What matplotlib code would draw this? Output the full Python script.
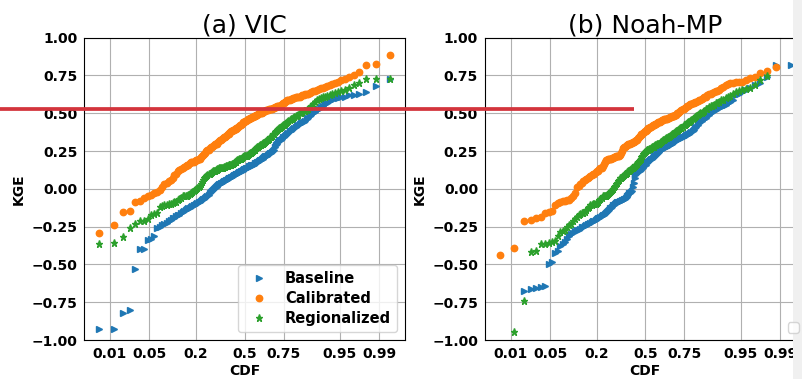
import numpy as np
import matplotlib
matplotlib.use("Agg")
import matplotlib.pyplot as plt
from matplotlib.patches import Rectangle
from matplotlib.lines import Line2D
from matplotlib.transforms import Bbox, TransformedBbox
from statistics import NormalDist

# ---------------- data (sorted KGE values, one per basin rank) ----------------
series_names = ["Baseline", "Calibrated", "Regionalized"]
panel_titles = ["(a) VIC", "(b) Noah-MP"]
cdf_ticks = [0.01, 0.05, 0.2, 0.5, 0.75, 0.95, 0.99]
cdf_tick_labels = ["0.01", "0.05", "0.2", "0.5", "0.75", "0.95", "0.99"]
kge_ticks = [-1.0, -0.75, -0.5, -0.25, 0.0, 0.25, 0.5, 0.75, 1.0]

vic_baseline = [
    -0.93, -0.93, -0.82, -0.80, -0.53, -0.40, -0.40, -0.34, -0.33, -0.31,
    -0.26, -0.25, -0.24, -0.235, -0.225, -0.215, -0.205, -0.195, -0.19, -0.18,
    -0.175, -0.17, -0.16, -0.15, -0.145, -0.14, -0.135, -0.13, -0.125, -0.12,
    -0.115, -0.11, -0.105, -0.10, -0.095, -0.09, -0.085, -0.08, -0.075, -0.07,
    -0.065, -0.06, -0.055, -0.05, -0.04, -0.03, -0.02, -0.015, -0.01, 0.00,
    0.005, 0.01, 0.015, 0.02, 0.025, 0.03, 0.035, 0.04, 0.04, 0.045,
    0.05, 0.055, 0.06, 0.06, 0.065, 0.07, 0.07, 0.075, 0.08, 0.08,
    0.085, 0.09, 0.09, 0.095, 0.10, 0.10, 0.105, 0.11, 0.11, 0.115,
    0.12, 0.12, 0.125, 0.13, 0.13, 0.135, 0.14, 0.14, 0.145, 0.15,
    0.15, 0.155, 0.155, 0.16, 0.16, 0.165, 0.17, 0.17, 0.175, 0.18,
    0.185, 0.19, 0.19, 0.195, 0.20, 0.205, 0.21, 0.215, 0.22, 0.22,
    0.225, 0.23, 0.235, 0.24, 0.245, 0.25, 0.26, 0.275, 0.29, 0.30,
    0.31, 0.315, 0.32, 0.325, 0.33, 0.34, 0.345, 0.35, 0.355, 0.36,
    0.37, 0.38, 0.385, 0.39, 0.395, 0.40, 0.41, 0.415, 0.42, 0.43,
    0.435, 0.44, 0.445, 0.45, 0.46, 0.47, 0.48, 0.49, 0.50, 0.51,
    0.52, 0.53, 0.54, 0.55, 0.56, 0.57, 0.58, 0.59, 0.60, 0.60,
    0.61, 0.61, 0.62, 0.62, 0.63, 0.64, 0.68, 0.73,
]
vic_calibrated = [
    -0.29, -0.24, -0.155, -0.145, -0.09, -0.08, -0.06, -0.05, -0.04, -0.03,
    -0.02, -0.01, 0.01, 0.03, 0.04, 0.05, 0.06, 0.075, 0.09, 0.10,
    0.115, 0.125, 0.13, 0.14, 0.145, 0.15, 0.155, 0.16, 0.17, 0.175,
    0.18, 0.18, 0.185, 0.19, 0.19, 0.195, 0.20, 0.21, 0.215, 0.225,
    0.23, 0.24, 0.25, 0.255, 0.26, 0.27, 0.275, 0.28, 0.285, 0.29,
    0.295, 0.30, 0.30, 0.305, 0.31, 0.315, 0.32, 0.325, 0.33, 0.335,
    0.34, 0.345, 0.35, 0.355, 0.36, 0.365, 0.37, 0.375, 0.38, 0.385,
    0.39, 0.39, 0.395, 0.395, 0.40, 0.405, 0.41, 0.415, 0.42, 0.425,
    0.43, 0.435, 0.44, 0.445, 0.45, 0.45, 0.455, 0.46, 0.46, 0.465,
    0.47, 0.47, 0.475, 0.475, 0.48, 0.48, 0.485, 0.49, 0.49, 0.495,
    0.50, 0.50, 0.505, 0.505, 0.51, 0.51, 0.515, 0.515, 0.52, 0.52,
    0.52, 0.525, 0.525, 0.53, 0.53, 0.535, 0.535, 0.54, 0.54, 0.545,
    0.545, 0.55, 0.55, 0.555, 0.56, 0.565, 0.57, 0.575, 0.58, 0.585,
    0.59, 0.59, 0.595, 0.595, 0.60, 0.60, 0.605, 0.605, 0.61, 0.61,
    0.615, 0.62, 0.62, 0.625, 0.63, 0.63, 0.635, 0.64, 0.645, 0.65,
    0.655, 0.66, 0.665, 0.67, 0.675, 0.68, 0.69, 0.695, 0.70, 0.71,
    0.72, 0.73, 0.74, 0.755, 0.775, 0.82, 0.825, 0.885,
]
vic_regionalized = [
    -0.365, -0.36, -0.32, -0.26, -0.23, -0.215, -0.21, -0.20, -0.17, -0.165,
    -0.16, -0.12, -0.115, -0.11, -0.105, -0.10, -0.10, -0.095, -0.09, -0.085,
    -0.075, -0.07, -0.06, -0.05, -0.05, -0.045, -0.045, -0.04, -0.035, -0.03,
    -0.02, -0.015, -0.01, 0.00, 0.005, 0.01, 0.02, 0.03, 0.045, 0.06,
    0.07, 0.08, 0.085, 0.09, 0.095, 0.10, 0.105, 0.11, 0.115, 0.12,
    0.12, 0.125, 0.125, 0.13, 0.13, 0.135, 0.135, 0.14, 0.14, 0.14,
    0.145, 0.145, 0.15, 0.15, 0.15, 0.155, 0.155, 0.16, 0.16, 0.165,
    0.165, 0.17, 0.175, 0.18, 0.185, 0.19, 0.19, 0.195, 0.20, 0.20,
    0.205, 0.21, 0.21, 0.215, 0.215, 0.22, 0.22, 0.225, 0.23, 0.23,
    0.235, 0.24, 0.245, 0.25, 0.255, 0.26, 0.265, 0.27, 0.275, 0.28,
    0.285, 0.29, 0.29, 0.295, 0.30, 0.305, 0.305, 0.31, 0.315, 0.32,
    0.325, 0.33, 0.34, 0.345, 0.35, 0.36, 0.365, 0.375, 0.38, 0.39,
    0.395, 0.40, 0.405, 0.41, 0.415, 0.42, 0.425, 0.43, 0.435, 0.44,
    0.45, 0.455, 0.46, 0.465, 0.47, 0.475, 0.48, 0.485, 0.49, 0.50,
    0.505, 0.51, 0.515, 0.515, 0.52, 0.53, 0.54, 0.55, 0.56, 0.575,
    0.59, 0.595, 0.60, 0.605, 0.61, 0.615, 0.62, 0.63, 0.635, 0.64,
    0.645, 0.655, 0.665, 0.69, 0.70, 0.725, 0.725, 0.73,
]
noah_baseline = [
    -1.20, -1.10, -0.675, -0.66, -0.655, -0.65, -0.64, -0.50, -0.485, -0.425,
    -0.41, -0.38, -0.365, -0.35, -0.33, -0.315, -0.30, -0.29, -0.28, -0.275,
    -0.27, -0.265, -0.255, -0.25, -0.245, -0.24, -0.235, -0.23, -0.225, -0.22,
    -0.215, -0.21, -0.205, -0.20, -0.195, -0.19, -0.185, -0.18, -0.175, -0.17,
    -0.165, -0.16, -0.155, -0.145, -0.14, -0.13, -0.125, -0.12, -0.11, -0.105,
    -0.10, -0.095, -0.09, -0.085, -0.085, -0.08, -0.08, -0.075, -0.075, -0.07,
    -0.065, -0.06, -0.055, -0.05, -0.04, -0.03, -0.025, -0.02, -0.015, 0.015,
    0.04, 0.07, 0.09, 0.10, 0.105, 0.11, 0.115, 0.12, 0.125, 0.13,
    0.135, 0.14, 0.15, 0.155, 0.16, 0.17, 0.175, 0.18, 0.185, 0.19,
    0.195, 0.20, 0.205, 0.21, 0.215, 0.22, 0.225, 0.23, 0.24, 0.245,
    0.255, 0.26, 0.26, 0.265, 0.27, 0.27, 0.275, 0.28, 0.28, 0.285,
    0.29, 0.29, 0.295, 0.30, 0.305, 0.31, 0.31, 0.315, 0.32, 0.325,
    0.325, 0.33, 0.335, 0.34, 0.34, 0.345, 0.35, 0.355, 0.355, 0.36,
    0.365, 0.37, 0.375, 0.38, 0.39, 0.40, 0.41, 0.42, 0.435, 0.445,
    0.45, 0.46, 0.465, 0.47, 0.48, 0.49, 0.50, 0.51, 0.515, 0.52,
    0.53, 0.535, 0.54, 0.55, 0.555, 0.565, 0.575, 0.585, 0.62, 0.63,
    0.64, 0.655, 0.665, 0.69, 0.70, 0.74, 0.82, 0.82,
]
noah_calibrated = [
    -0.435, -0.39, -0.21, -0.205, -0.195, -0.185, -0.16, -0.15, -0.145, -0.11,
    -0.095, -0.085, -0.08, -0.08, -0.075, -0.075, -0.06, -0.05, -0.03, 0.01,
    0.02, 0.03, 0.04, 0.05, 0.06, 0.065, 0.075, 0.08, 0.085, 0.09,
    0.095, 0.10, 0.11, 0.115, 0.12, 0.13, 0.135, 0.14, 0.15, 0.165,
    0.18, 0.19, 0.19, 0.195, 0.195, 0.20, 0.20, 0.205, 0.205, 0.21,
    0.21, 0.215, 0.215, 0.22, 0.22, 0.225, 0.235, 0.25, 0.27, 0.275,
    0.28, 0.285, 0.29, 0.29, 0.295, 0.30, 0.30, 0.305, 0.305, 0.31,
    0.31, 0.315, 0.315, 0.32, 0.325, 0.335, 0.34, 0.35, 0.355, 0.36,
    0.365, 0.37, 0.375, 0.38, 0.385, 0.39, 0.395, 0.40, 0.405, 0.41,
    0.41, 0.415, 0.42, 0.42, 0.425, 0.43, 0.43, 0.435, 0.44, 0.44,
    0.445, 0.45, 0.45, 0.455, 0.455, 0.46, 0.46, 0.465, 0.465, 0.47,
    0.47, 0.475, 0.475, 0.48, 0.48, 0.485, 0.485, 0.49, 0.49, 0.50,
    0.505, 0.51, 0.515, 0.52, 0.525, 0.53, 0.535, 0.54, 0.545, 0.55,
    0.555, 0.56, 0.56, 0.565, 0.57, 0.575, 0.575, 0.58, 0.585, 0.59,
    0.595, 0.60, 0.605, 0.61, 0.62, 0.625, 0.63, 0.635, 0.64, 0.645,
    0.65, 0.655, 0.665, 0.675, 0.69, 0.695, 0.70, 0.70, 0.705, 0.705,
    0.71, 0.72, 0.735, 0.74, 0.765, 0.78, 0.805, np.nan,
]
noah_regionalized = [
    -1.10, -0.95, -0.745, -0.42, -0.41, -0.365, -0.365, -0.36, -0.35, -0.345,
    -0.31, -0.285, -0.28, -0.27, -0.255, -0.24, -0.23, -0.215, -0.20, -0.185,
    -0.175, -0.165, -0.16, -0.16, -0.15, -0.14, -0.13, -0.12, -0.11, -0.105,
    -0.10, -0.10, -0.10, -0.095, -0.085, -0.075, -0.065, -0.06, -0.05, -0.05,
    -0.05, -0.045, -0.04, -0.035, -0.03, -0.02, -0.015, -0.005, 0.00, 0.01,
    0.02, 0.03, 0.04, 0.05, 0.06, 0.07, 0.075, 0.08, 0.085, 0.09,
    0.095, 0.10, 0.105, 0.11, 0.115, 0.12, 0.125, 0.13, 0.135, 0.14,
    0.145, 0.15, 0.155, 0.16, 0.165, 0.175, 0.185, 0.19, 0.20, 0.21,
    0.22, 0.23, 0.24, 0.245, 0.25, 0.255, 0.26, 0.26, 0.265, 0.265,
    0.27, 0.275, 0.275, 0.28, 0.285, 0.29, 0.29, 0.295, 0.30, 0.30,
    0.305, 0.31, 0.31, 0.315, 0.32, 0.325, 0.33, 0.335, 0.335, 0.34,
    0.345, 0.35, 0.355, 0.36, 0.36, 0.365, 0.37, 0.375, 0.38, 0.385,
    0.39, 0.395, 0.40, 0.405, 0.41, 0.42, 0.425, 0.43, 0.435, 0.44,
    0.445, 0.45, 0.455, 0.46, 0.47, 0.475, 0.48, 0.49, 0.495, 0.50,
    0.505, 0.51, 0.515, 0.525, 0.53, 0.54, 0.545, 0.55, 0.555, 0.565,
    0.57, 0.577, 0.585, 0.59, 0.60, 0.605, 0.615, 0.63, 0.64, 0.645,
    0.655, 0.66, 0.67, 0.687, 0.72, 0.745, np.nan, np.nan,
]

panels = [
    [vic_baseline, vic_calibrated, vic_regionalized],
    [noah_baseline, noah_calibrated, noah_regionalized],
]

# ---------------- normal-probability x scale ----------------
_nd = NormalDist()
_ppf = np.vectorize(_nd.inv_cdf, otypes=[float])
_cdf = np.vectorize(_nd.cdf, otypes=[float])


def prob_forward(p):
    p = np.clip(np.asarray(p, dtype=float), 1e-9, 1 - 1e-9)
    return _ppf(p)


def prob_inverse(z):
    return _cdf(np.asarray(z, dtype=float))


plt.rcParams["font.family"] = ["DejaVu Sans"]
plt.rcParams["font.weight"] = "bold"

W, H = 802, 379
fig = plt.figure(figsize=(W / 100, H / 100), dpi=100)

ax_w = (405.0 - 84.3) / W
ax_h = (340.0 - 37.7) / H
ax_b = 1 - 340.0 / H
axes = [fig.add_axes([84.3 / W, ax_b, ax_w, ax_h]),
        fig.add_axes([485.0 / W, ax_b, ax_w, ax_h])]

colors = ["#1f77b4", "#ff7f0e", "#2ca02c"]
markers = [">", "o", "*"]
msizes = [4.6, 4.6, 5.2]
xlim_p = (prob_inverse(-2.77), prob_inverse(2.77))

for k, ax in enumerate(axes):
    for s, vals in enumerate(panels[k]):
        v = np.asarray(vals, dtype=float)
        n = len(v)
        pos = np.arange(1, n + 1) / (n + 1)
        ax.plot(pos, v, linestyle="none", marker=markers[s], ms=msizes[s],
                color=colors[s], label=series_names[s])
    ax.set_xscale("function", functions=(prob_forward, prob_inverse))
    ax.set_xlim(*xlim_p)
    ax.set_ylim(-1, 1)
    ax.set_xticks(cdf_ticks)
    ax.set_xticklabels(cdf_tick_labels)
    ax.set_yticks(kge_ticks)
    ax.tick_params(axis="both", labelsize=10, length=0, pad=5)
    ax.grid(True, color="#b0b0b0", linewidth=0.8)
    ax.set_xlabel("CDF", fontsize=10, fontweight="bold", labelpad=2)
    ax.set_ylabel("KGE", fontsize=10, fontweight="bold", labelpad=4)
    ax.set_title(panel_titles[k], fontsize=18, fontweight="normal", pad=4)

axes[0].legend(loc="lower right", prop={"weight": "bold", "size": 10.5},
               labelspacing=0.35, borderaxespad=0.55)
axes[1].legend(handles=[], loc="lower right", prop={"size": 10})

# light grey strip at the right edge of the image (under tick labels and legend,
# over the grid lines and spines, which are clipped at its edge)
x_strip = 793.0
axes[1].add_patch(Rectangle((x_strip / W, 0), 1 - x_strip / W, 1,
                            transform=fig.transFigure, facecolor="#f0f0f0",
                            edgecolor="none", clip_on=False, zorder=2.2))
clip_box = TransformedBbox(Bbox([[0, 0], [x_strip / W, 1]]), fig.transFigure)
for t in axes[1].xaxis.get_major_ticks() + axes[1].yaxis.get_major_ticks():
    t.gridline.set_clip_box(clip_box)
for name in ["top", "bottom"]:
    axes[1].spines[name].set_clip_box(clip_box)
    axes[1].spines[name].set_clip_on(True)

# red horizontal line across the figure
y_red = 1 - 108.8 / H
fig.add_artist(Line2D([0, 634.0 / W], [y_red, y_red], transform=fig.transFigure,
                      color="#d3343c", linewidth=2.7, solid_capstyle="butt",
                      zorder=100))

fig.savefig("out.png", dpi=100)
